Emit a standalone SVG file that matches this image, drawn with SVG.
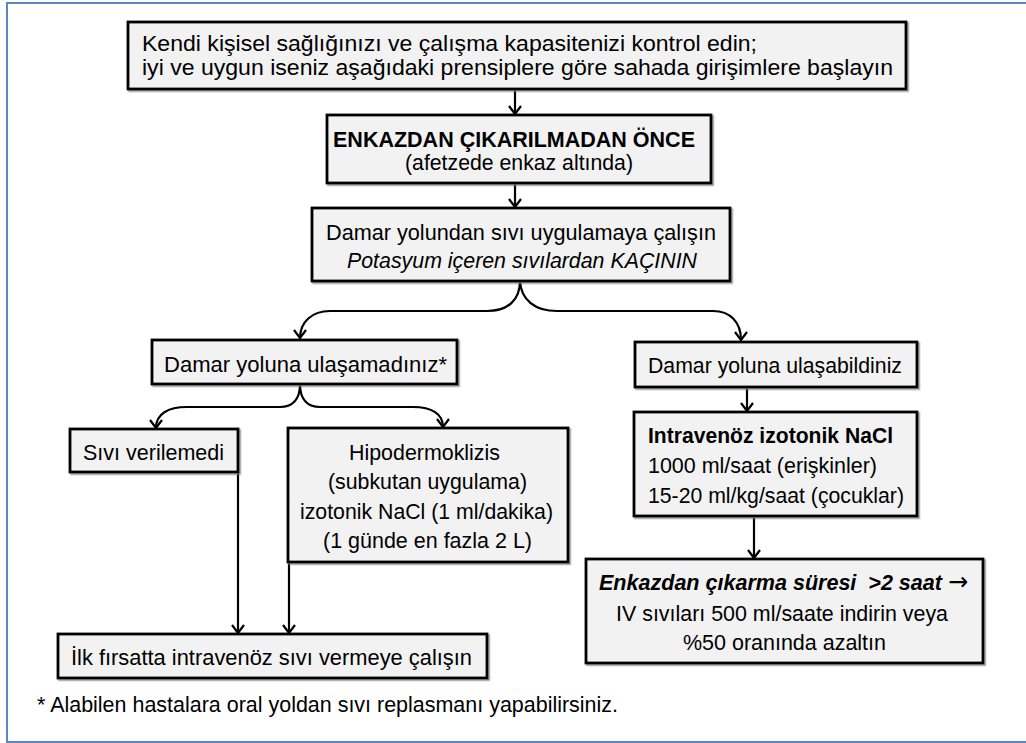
<svg xmlns="http://www.w3.org/2000/svg" width="1026" height="743" viewBox="0 0 1026 743">
<style>
  .frame{fill:#fff;stroke:#5b87c5;stroke-width:2}
  .box{fill:#f2f2f2;stroke:#000;stroke-width:2.8;filter:url(#sh)}
  text{font-family:"Liberation Sans",Arial,sans-serif;font-size:22.5px;fill:#000}
  .b{font-weight:bold}
  .i{font-style:italic}
  .ar{font-family:"DejaVu Sans",sans-serif;font-weight:normal;font-style:normal;font-size:25px}
  .con{fill:none;stroke:#000;stroke-width:2.2;marker-end:url(#arr)}
</style>
<defs>
  <filter id="sh" x="-5%" y="-5%" width="110%" height="120%">
    <feDropShadow dx="1.5" dy="1.5" stdDeviation="0.6" flood-color="#777" flood-opacity="0.8"/>
  </filter>
  <marker id="arr" markerUnits="userSpaceOnUse" viewBox="0 0 10 14" refX="9" refY="7" markerWidth="10" markerHeight="14" orient="auto">
    <path d="M1,1 L9,7 L1,13" fill="none" stroke="#000" stroke-width="2.2"/>
  </marker>
</defs>
<rect class="frame" x="7" y="3" width="1030" height="739"/>

<g id="connectors">
  <path class="con" d="M515,89 L515,114"/>
  <path class="con" d="M515,183 L515,207"/>
  <path class="con" d="M520,281 C520,300 508,311 487,311 L330,311 C312,311 300,322 300,338"/>
  <path class="con" d="M520,281 C521,300 535,311 557,311 L713,311 C730,311 741,322 741,340"/>
  <path class="con" d="M300,384 C300,400 292,407 280,407 L187,407 C168,407 156,414 156,428"/>
  <path class="con" d="M300,384 C300,400 308,407 320,407 L413,407 C432,407 443,414 443,427"/>
  <path class="con" d="M747,387 L747,411"/>
  <path class="con" d="M754,516 L754,558"/>
  <path class="con" d="M238,472 L238,633"/>
  <path class="con" d="M289,562 L289,633"/>
</g>

<g id="n1">
  <rect class="box" x="128" y="22" width="778" height="67"/>
  <text x="142" y="51" textLength="615" lengthAdjust="spacingAndGlyphs">Kendi kişisel sağlığınızı ve çalışma kapasitenizi kontrol edin;</text>
  <text x="142" y="75" textLength="751" lengthAdjust="spacingAndGlyphs">iyi ve uygun iseniz aşağıdaki prensiplere göre sahada girişimlere başlayın</text>
</g>
<g id="n2">
  <rect class="box" x="327" y="115" width="384" height="68"/>
  <text class="b" x="333" y="147" textLength="362" lengthAdjust="spacingAndGlyphs">ENKAZDAN ÇIKARILMADAN ÖNCE</text>
  <text x="405" y="170" textLength="228" lengthAdjust="spacingAndGlyphs">(afetzede enkaz altında)</text>
</g>
<g id="n3">
  <rect class="box" x="312" y="208" width="418" height="73"/>
  <text x="326" y="240" textLength="390" lengthAdjust="spacingAndGlyphs">Damar yolundan sıvı uygulamaya çalışın</text>
  <text class="i" x="347" y="268" textLength="350" lengthAdjust="spacingAndGlyphs">Potasyum içeren sıvılardan KAÇININ</text>
</g>
<g id="n4">
  <rect class="box" x="152" y="340" width="305" height="44"/>
  <text x="164" y="372" textLength="283" lengthAdjust="spacingAndGlyphs">Damar yoluna ulaşamadınız*</text>
</g>
<g id="n5">
  <rect class="box" x="635" y="342" width="282" height="45"/>
  <text x="648" y="373" textLength="254" lengthAdjust="spacingAndGlyphs">Damar yoluna ulaşabildiniz</text>
</g>
<g id="n6">
  <rect class="box" x="634" y="412" width="283" height="104"/>
  <text class="b" x="648" y="443" textLength="245" lengthAdjust="spacingAndGlyphs">Intravenöz izotonik NaCl</text>
  <text x="648" y="473" textLength="229" lengthAdjust="spacingAndGlyphs">1000 ml/saat (erişkinler)</text>
  <text x="648" y="503" textLength="256" lengthAdjust="spacingAndGlyphs">15-20 ml/kg/saat (çocuklar)</text>
</g>
<g id="n7">
  <rect class="box" x="586" y="559" width="397" height="104"/>
  <text class="b i" x="599" y="590" textLength="369" lengthAdjust="spacingAndGlyphs" xml:space="preserve">Enkazdan çıkarma süresi  &gt;2 saat <tspan class="ar">→</tspan></text>
  <text x="616" y="621" textLength="332" lengthAdjust="spacingAndGlyphs">IV sıvıları 500 ml/saate indirin veya</text>
  <text x="683" y="650" textLength="203" lengthAdjust="spacingAndGlyphs">%50 oranında azaltın</text>
</g>
<g id="n8">
  <rect class="box" x="70" y="429" width="168" height="43"/>
  <text x="83" y="460" textLength="141" lengthAdjust="spacingAndGlyphs">Sıvı verilemedi</text>
</g>
<g id="n9">
  <rect class="box" x="288" y="428" width="280" height="134"/>
  <text x="349" y="460" textLength="151" lengthAdjust="spacingAndGlyphs">Hipodermoklizis</text>
  <text x="328" y="489" textLength="199" lengthAdjust="spacingAndGlyphs">(subkutan uygulama)</text>
  <text x="300" y="519" textLength="253" lengthAdjust="spacingAndGlyphs">izotonik NaCl (1 ml/dakika)</text>
  <text x="323" y="548" textLength="209" lengthAdjust="spacingAndGlyphs">(1 günde en fazla 2 L)</text>
</g>
<g id="n10">
  <rect class="box" x="58" y="634" width="429" height="44"/>
  <text x="71" y="665" textLength="401" lengthAdjust="spacingAndGlyphs">İlk fırsatta intravenöz sıvı vermeye çalışın</text>
</g>
<g id="footnote">
  <text x="37" y="712" textLength="581" lengthAdjust="spacingAndGlyphs">* Alabilen hastalara oral yoldan sıvı replasmanı yapabilirsiniz.</text>
</g>
</svg>
